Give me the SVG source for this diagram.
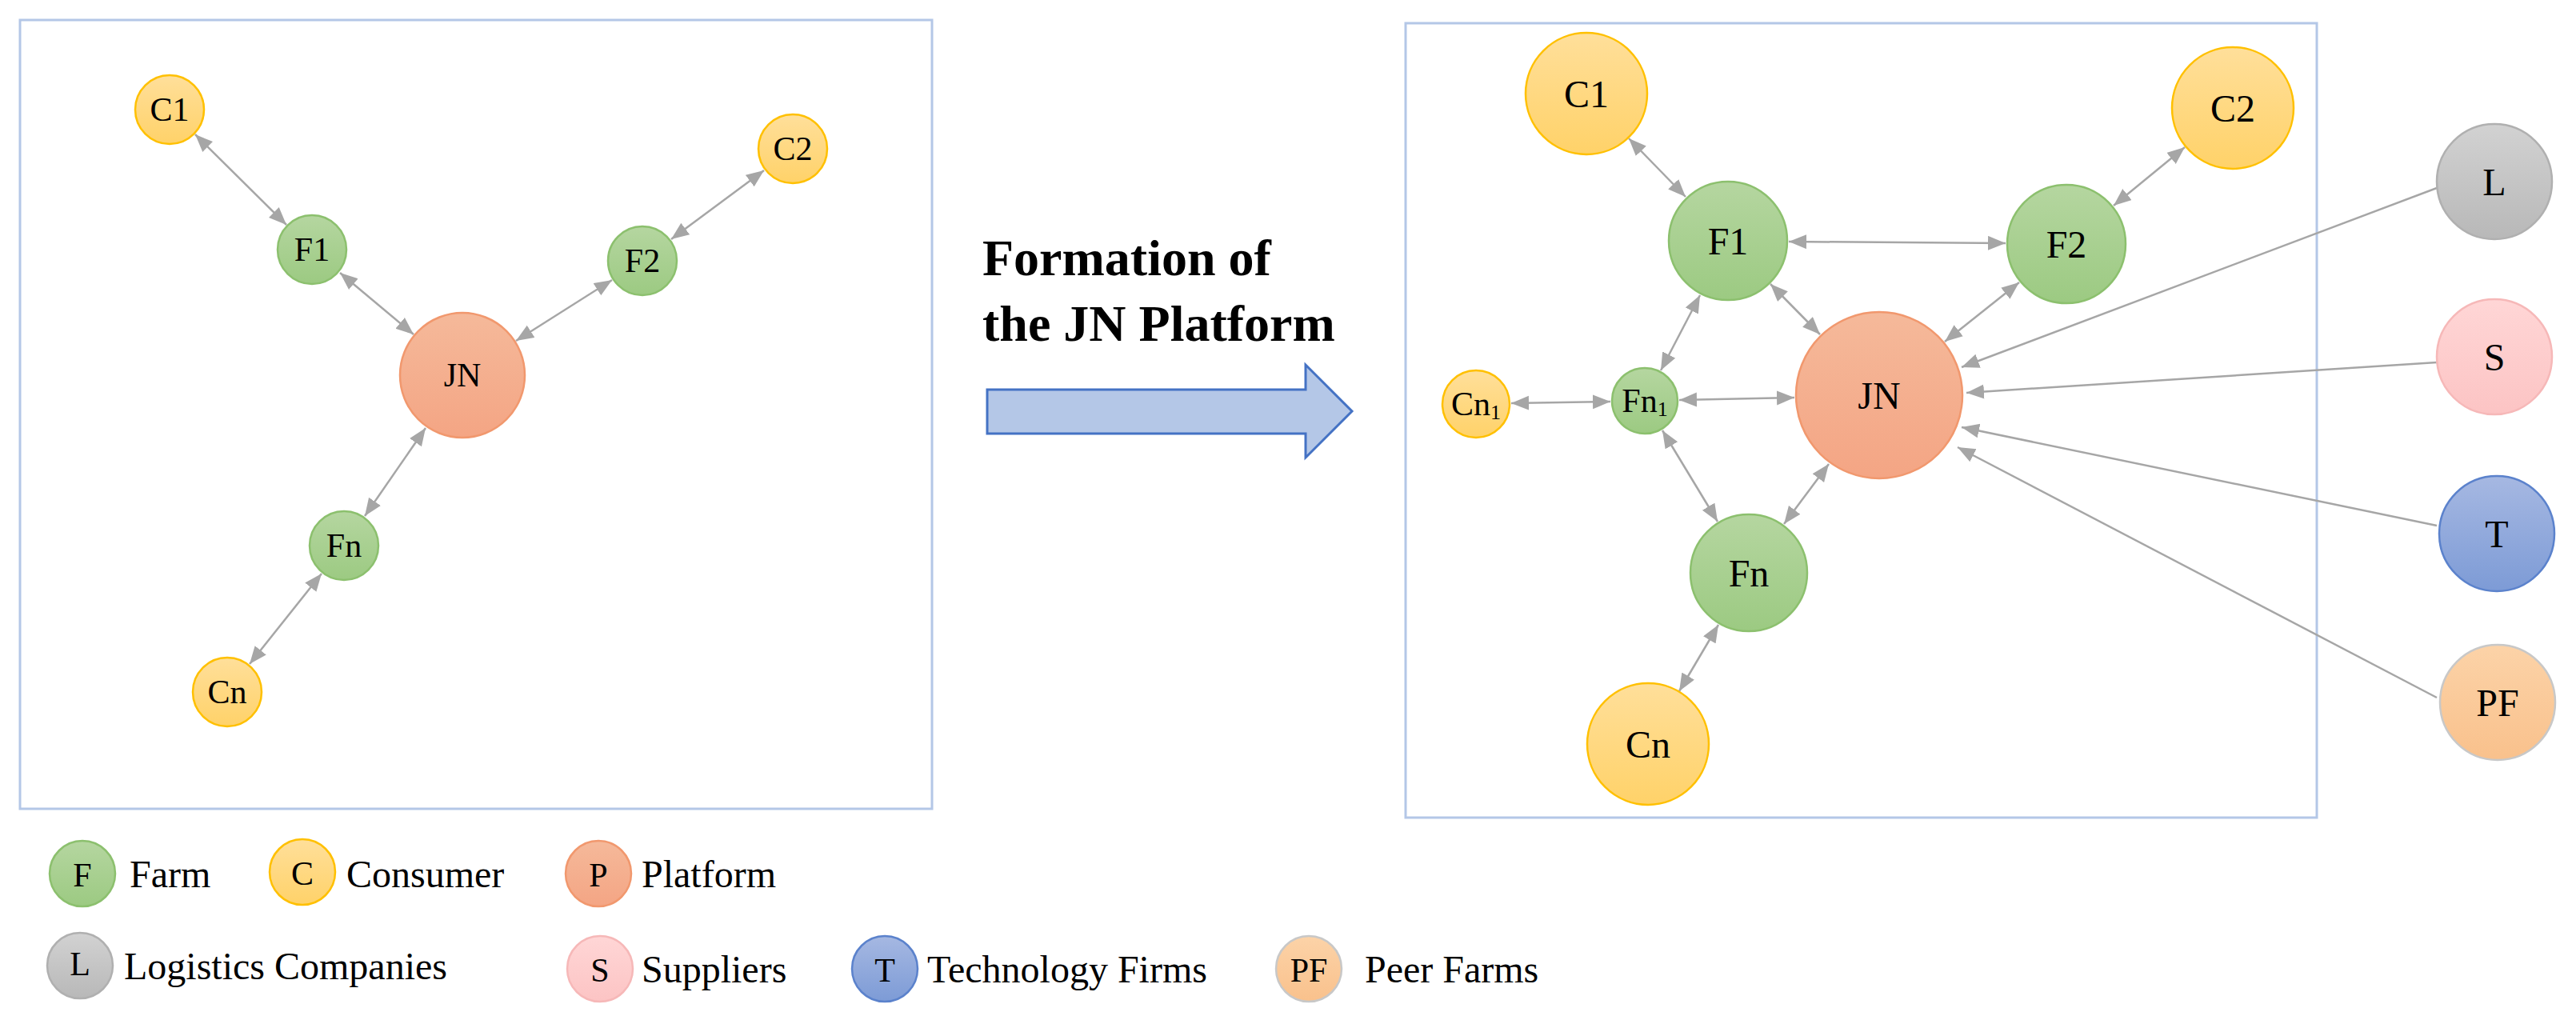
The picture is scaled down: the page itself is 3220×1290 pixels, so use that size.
<svg xmlns="http://www.w3.org/2000/svg" width="3220" height="1290" viewBox="0 0 3220 1290">
<defs>
<linearGradient id="gG" x1="0" y1="0" x2="0" y2="1"><stop offset="0" stop-color="#b5d6a0"/><stop offset="1" stop-color="#9cca82"/></linearGradient>
<linearGradient id="gY" x1="0" y1="0" x2="0" y2="1"><stop offset="0" stop-color="#ffdf9a"/><stop offset="1" stop-color="#ffd269"/></linearGradient>
<linearGradient id="gO" x1="0" y1="0" x2="0" y2="1"><stop offset="0" stop-color="#f5b99a"/><stop offset="1" stop-color="#f4a584"/></linearGradient>
<linearGradient id="gL" x1="0" y1="0" x2="0" y2="1"><stop offset="0" stop-color="#d2d2d2"/><stop offset="1" stop-color="#b8b8b8"/></linearGradient>
<linearGradient id="gS" x1="0" y1="0" x2="0" y2="1"><stop offset="0" stop-color="#ffd6d6"/><stop offset="1" stop-color="#fcc4c4"/></linearGradient>
<linearGradient id="gT" x1="0" y1="0" x2="0" y2="1"><stop offset="0" stop-color="#a6b8e2"/><stop offset="1" stop-color="#7d9bd6"/></linearGradient>
<linearGradient id="gP" x1="0" y1="0" x2="0" y2="1"><stop offset="0" stop-color="#fcd3a8"/><stop offset="1" stop-color="#f9c18c"/></linearGradient>
<marker id="ah" markerUnits="userSpaceOnUse" markerWidth="24" markerHeight="20" refX="22" refY="9" orient="auto-start-reverse"><path d="M0,0 L22,9 L0,18 Z" fill="#a6a6a6"/></marker>
</defs>
<style>
.frame{fill:none;stroke:#b4c7e7;stroke-width:3}
.g{fill:url(#gG);stroke:#8cc06e;stroke-width:2.5}
.y{fill:url(#gY);stroke:#ffc000;stroke-width:2.5}
.o{fill:url(#gO);stroke:#f1986e;stroke-width:2.5}
.l{fill:url(#gL);stroke:#b0b0b0;stroke-width:2.5}
.s{fill:url(#gS);stroke:#f6b8b8;stroke-width:2.5}
.t{fill:url(#gT);stroke:#5b82cc;stroke-width:2.5}
.p{fill:url(#gP);stroke:#c8c8c8;stroke-width:2.5}
text{font-family:"Liberation Serif","Times New Roman",serif;fill:#000}
.lab{font-size:42px;text-anchor:middle;dominant-baseline:central}
.labR{font-size:48px;text-anchor:middle;dominant-baseline:central}
.leg{font-size:48px;dominant-baseline:central}
.c2{stroke:#a6a6a6;stroke-width:2.5;fill:none;marker-start:url(#ah);marker-end:url(#ah)}
.c1{stroke:#a6a6a6;stroke-width:2.5;fill:none;marker-end:url(#ah)}
</style>
<rect class="frame" x="25" y="25" width="1140" height="986"/>
<rect class="frame" x="1757" y="29" width="1139" height="993"/>
<g id="title"><text x="1228" y="344" font-size="64" font-weight="bold">Formation of</text><text x="1228" y="426" font-size="64" font-weight="bold">the JN Platform</text></g>
<g id="bigarrow"><path d="M1234,487 L1632,487 L1632,456 L1690,514 L1632,572 L1632,542 L1234,542 Z" fill="#b4c7e7" stroke="#4472c4" stroke-width="3"/></g>
<g id="connectors">
<line class="c2" x1="244" y1="168" x2="358" y2="281"/>
<line class="c2" x1="425" y1="341" x2="517" y2="418"/>
<line class="c2" x1="645" y1="426" x2="765" y2="350"/>
<line class="c2" x1="839" y1="299" x2="955" y2="213"/>
<line class="c2" x1="456" y1="645" x2="532" y2="535"/>
<line class="c2" x1="312" y1="830" x2="402" y2="717"/>
<line class="c2" x1="2036" y1="173" x2="2107" y2="246"/>
<line class="c2" x1="2236" y1="302" x2="2507" y2="304"/>
<line class="c2" x1="2642" y1="257" x2="2731" y2="184"/>
<line class="c2" x1="2213" y1="355" x2="2275" y2="418"/>
<line class="c2" x1="2431" y1="427" x2="2524" y2="353"/>
<line class="c2" x1="2076" y1="463" x2="2125" y2="369"/>
<line class="c2" x1="1889" y1="504" x2="2013" y2="502"/>
<line class="c2" x1="2099" y1="500" x2="2243" y2="497"/>
<line class="c2" x1="2078" y1="538" x2="2147" y2="652"/>
<line class="c2" x1="2230" y1="655" x2="2286" y2="580"/>
<line class="c2" x1="2099" y1="864" x2="2148" y2="781"/>
<line class="c1" x1="3046" y1="235" x2="2452" y2="459"/>
<line class="c1" x1="3046" y1="453" x2="2458" y2="491" stroke-width="3.5"/>
<line class="c1" x1="3046" y1="657" x2="2452" y2="534"/>
<line class="c1" x1="3046" y1="872" x2="2447" y2="559"/>
</g>
<g id="L_C1"><circle class="y" cx="212" cy="137" r="43"/><text class="lab" x="212" y="137">C1</text></g>
<g id="L_F1"><circle class="g" cx="390" cy="312" r="43"/><text class="lab" x="390" y="312">F1</text></g>
<g id="L_F2"><circle class="g" cx="803" cy="326" r="43"/><text class="lab" x="803" y="326">F2</text></g>
<g id="L_C2"><circle class="y" cx="991" cy="186" r="43"/><text class="lab" x="991" y="186">C2</text></g>
<g id="L_JN"><circle class="o" cx="578" cy="469" r="78"/><text class="lab" x="578" y="469" font-size="72">JN</text></g>
<g id="L_Fn"><circle class="g" cx="430" cy="682" r="43"/><text class="lab" x="430" y="682">Fn</text></g>
<g id="L_Cn"><circle class="y" cx="284" cy="865" r="43"/><text class="lab" x="284" y="865">Cn</text></g>
<g id="R_C1"><circle class="y" cx="1983" cy="117" r="76"/><text class="labR" x="1983" y="117">C1</text></g>
<g id="R_C2"><circle class="y" cx="2791" cy="135" r="76"/><text class="labR" x="2791" y="135">C2</text></g>
<g id="R_F1"><circle class="g" cx="2160" cy="301" r="74"/><text class="labR" x="2160" y="301">F1</text></g>
<g id="R_F2"><circle class="g" cx="2583" cy="305" r="74"/><text class="labR" x="2583" y="305">F2</text></g>
<g id="R_JN"><circle class="o" cx="2349" cy="494" r="104"/><text class="labR" x="2349" y="494" font-size="84">JN</text></g>
<g id="R_Cn1"><circle class="y" cx="1845" cy="505" r="42"/><text class="lab" x="1845" y="505" font-size="38">Cn<tspan font-size="26" dy="10">1</tspan></text></g>
<g id="R_Fn1"><circle class="g" cx="2056" cy="501" r="41"/><text class="lab" x="2056" y="501" font-size="38">Fn<tspan font-size="26" dy="10">1</tspan></text></g>
<g id="R_Fn"><circle class="g" cx="2186" cy="716" r="73"/><text class="labR" x="2186" y="716">Fn</text></g>
<g id="R_Cn"><circle class="y" cx="2060" cy="930" r="76"/><text class="labR" x="2060" y="930">Cn</text></g>
<g id="R_L"><circle class="l" cx="3118" cy="227" r="72"/><text class="labR" x="3118" y="227">L</text></g>
<g id="R_S"><circle class="s" cx="3118" cy="446" r="72"/><text class="labR" x="3118" y="446">S</text></g>
<g id="R_T"><circle class="t" cx="3121" cy="667" r="72"/><text class="labR" x="3121" y="667">T</text></g>
<g id="R_PF"><circle class="p" cx="3122" cy="878" r="72"/><text class="labR" x="3122" y="878">PF</text></g>
<g id="legend">
<circle class="g" cx="103" cy="1092" r="41"/><text class="lab" x="103" y="1094">F</text><text class="leg" x="162" y="1092">Farm</text>
<circle class="y" cx="378" cy="1090" r="41"/><text class="lab" x="378" y="1092">C</text><text class="leg" x="433" y="1092">Consumer</text>
<circle class="o" cx="748" cy="1092" r="41"/><text class="lab" x="748" y="1094">P</text><text class="leg" x="802" y="1092">Platform</text>
<circle class="l" cx="100" cy="1207" r="41"/><text class="lab" x="100" y="1205">L</text><text class="leg" x="155" y="1207">Logistics Companies</text>
<circle class="s" cx="750" cy="1211" r="41"/><text class="lab" x="750" y="1213">S</text><text class="leg" x="802" y="1211">Suppliers</text>
<circle class="t" cx="1106" cy="1211" r="41"/><text class="lab" x="1106" y="1213">T</text><text class="leg" x="1159" y="1211">Technology Firms</text>
<circle class="p" cx="1636" cy="1211" r="41"/><text class="lab" x="1636" y="1213">PF</text><text class="leg" x="1706" y="1211">Peer Farms</text>
</g>
</svg>
